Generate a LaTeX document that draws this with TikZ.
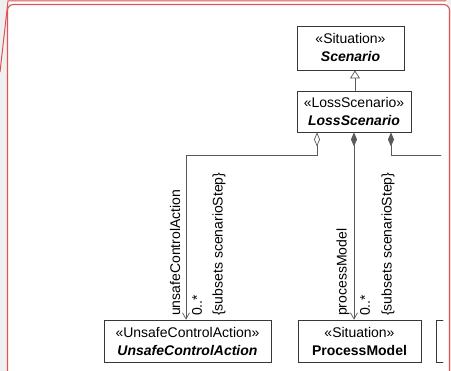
\documentclass[tikz,border=0pt]{standalone}
\usepackage{fontspec}
\setmainfont{Liberation Sans}
\usetikzlibrary{arrows.meta}
\definecolor{framered}{RGB}{221,84,84}
\definecolor{boxline}{RGB}{55,55,55}

\begin{document}
\begin{tikzpicture}[x=1pt,y=-1pt,line cap=round,
  umlbox/.style={draw=boxline,fill=white,line width=0.9pt,align=center,inner sep=0pt,
    font=\fontsize{14}{18}\selectfont},
  assoc/.style={draw=black!65,line width=0.7pt},
  role/.style={rotate=90,anchor=west,inner sep=0pt,font=\fontsize{14}{16}\selectfont}]
\useasboundingbox (0,0) rectangle (451,371);
\fill[black!6] (0,0) rectangle (451,371);
% diagram frame
\fill[white] (8,1) rectangle (447,4);
\draw[framered,line width=1pt] (0,72) -- (8,1) -- (446,1);
\draw[framered,line width=1.1pt,fill=white,rounded corners=6pt] (7.5,390) -- (7.5,4.5) -- (449.5,4.5) -- (449.5,390);
% classes
\node[umlbox,minimum width=107pt,minimum height=44pt] (scenario) at (350.5,48)
  {\guillemotleft Situation\guillemotright\\\textbf{\textit{Scenario}}};
\node[umlbox,minimum width=114pt,minimum height=41pt] (lossScenario) at (354,111.5)
  {\guillemotleft LossScenario\guillemotright\\\textbf{\textit{LossScenario}}};
\node[umlbox,minimum width=167pt,minimum height=42pt] (uca) at (187.5,341)
  {\guillemotleft UnsafeControlAction\guillemotright\\\textbf{\textit{UnsafeControlAction}}};
\node[umlbox,minimum width=123pt,minimum height=42pt] (processModel) at (359.5,341)
  {\guillemotleft Situation\guillemotright\\\textbf{ProcessModel}};
% cut-off class on the right
\draw[boxline,line width=0.9pt] (443,320) -- (436,320) -- (436,362) -- (443,362);
% generalization
\draw[assoc,-{Triangle[open,length=8pt,width=10pt]}] (lossScenario.north -| 355,0) -- (scenario.south -| 355,0);
% associations
\draw[assoc,{Diamond[open,length=14pt,width=6pt]}-{Straight Barb[length=6pt,width=7pt]}]
  (lossScenario.south -| 317,0) -- (317,155) -- (186,155) -- (uca.north -| 186,0);
\draw[assoc,{Diamond[length=14pt,width=6pt]}-{Straight Barb[length=6pt,width=7pt]}]
  (lossScenario.south -| 354,0) -- (processModel.north -| 354,0);
\draw[assoc,{Diamond[length=14pt,width=6pt]}-] (lossScenario.south -| 391,0) -- (391,155) -- (441,155);
% association end labels
\node[role] (ucaRole) at (175,316) {unsafeControlAction};
\node[role] (ucaMult) at (197,316) {0..*};
\node[role] (ucaSub) at (219,316) {\{subsets scenarioStep\}};
\node[role] (pmRole) at (343,316) {processModel};
\node[role] (pmMult) at (365,316) {0..*};
\node[role] (pmSub) at (388,316) {\{subsets scenarioStep\}};
\end{tikzpicture}
\end{document}
